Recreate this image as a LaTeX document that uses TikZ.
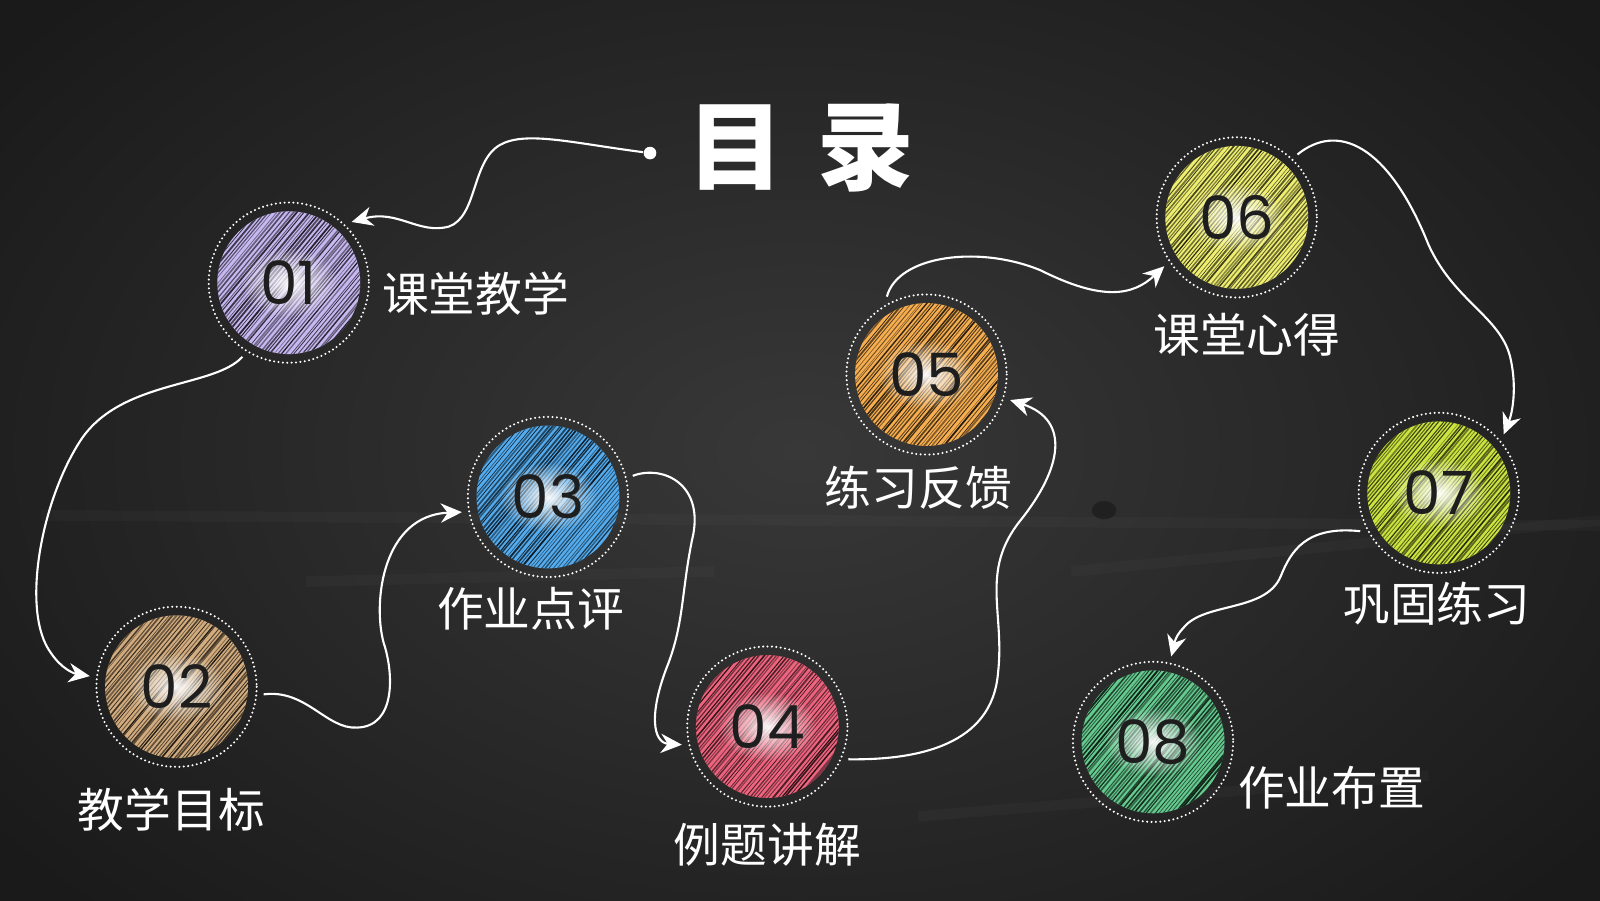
\documentclass[tikz,border=0pt]{standalone}
\usepackage{fontspec}
\newfontfamily\cjk{Noto Sans CJK SC}
\newfontfamily\numfont{Poppins}
\usetikzlibrary{arrows.meta,fadings}
\tikzfading[name=glowfade, inner color=transparent!0, outer color=transparent!100]
\definecolor{bgin}{RGB}{56,56,56}
\definecolor{bgout}{RGB}{26,26,26}
\definecolor{numdark}{RGB}{30,30,30}
\definecolor{cA}{RGB}{200,184,242}
\definecolor{cB}{RGB}{210,172,126}
\definecolor{cC}{RGB}{84,172,238}
\definecolor{cD}{RGB}{238,100,126}
\definecolor{cE}{RGB}{246,174,80}
\definecolor{cF}{RGB}{238,238,112}
\definecolor{cG}{RGB}{204,228,64}
\definecolor{cH}{RGB}{100,202,142}
\tikzset{
  conn/.style={draw=white, line width=0.6pt, -{Stealth[length=6pt,width=5.5pt]}},
  anchorcirc/.style={circle, inner sep=0pt, outer sep=0pt, minimum size=49.75pt},
  lab/.style={text=white, font=\cjk\fontsize{13.3pt}{14pt}\selectfont, inner sep=0pt},
  ttl/.style={text=white, font=\cjk\bfseries\fontsize{27.5pt}{28pt}\selectfont, inner sep=0pt},
  numst/.style={text=numdark, font=\numfont\fontsize{17pt}{18pt}\selectfont, inner sep=0pt},
  ring/.style={draw=white, line width=0.65pt, dash pattern=on 0pt off 1.25pt, line cap=round},
  dotst/.style={circle, fill=white, inner sep=0pt, minimum size=3.6pt}
}
\newcommand\mydisc[5]{%
  \fill[#4] (#2,#3) circle (70);
  \begin{scope}[shift={(#2,#3)}]
    \clip (0,0) circle (70);
    \foreach \k in {-24,...,24}{%
      \pgfmathsetmacro\o{\k*3.0+rnd*1.6}%
      \pgfmathsetmacro\lw{0.15+0.4*rnd}%
      \pgfmathsetmacro\op{0.4+0.45*rnd}%
      \draw[black, line width=\lw pt, opacity=\op] (\o*0.77-64, \o*0.64+77) -- ++(128,-154);
    }
    \fill[white, path fading=glowfade, opacity=0.95] (0,0) ellipse (48 and 34);
  \end{scope}
  \draw[ring] (#2,#3) circle (78.5);
  \node[anchorcirc] (#1) at (#2,#3) {};
  \node[numst] at (#2,#3) {#5};
}
\begin{document}
\begin{tikzpicture}[x=0.010204cm, y=-0.010204cm]
\pgfmathsetseed{7}
\useasboundingbox (0,0) rectangle (1568,882);
\shade[inner color=bgin, outer color=bgout] (-200,-200) rectangle (1768,1082);
% faint chalk smudges
\foreach \a/\b/\c/\d in {40/505/1568/515, 300/570/700/560, 1050/560/1568/510, 900/800/1400/760}{
  \draw[white, opacity=0.025, line width=3pt] (\a,\b) -- (\c,\d);
}
\fill[black, opacity=0.3] (1082,500) ellipse (12 and 9);

% title
\node[dotst] (dot) at (637,150) {};
\node[ttl] (t1) at (721,145) {目};
\node[ttl] (t2) at (848,145) {录};

% discs
\mydisc{c1}{283}{277}{cA}{01}
\mydisc{c2}{173}{673}{cB}{02}
\mydisc{c3}{537}{487}{cC}{03}
\mydisc{c4}{752}{712}{cD}{04}
\mydisc{c5}{908}{367}{cE}{05}
\mydisc{c6}{1212}{213}{cF}{06}
\mydisc{c7}{1410}{483}{cG}{07}
\mydisc{c8}{1130}{727}{cH}{08}

% labels
\node[lab] (l1) at (466,288) {课堂教学};
\node[lab] (l2) at (168,793) {教学目标};
\node[lab] (l3) at (520,597) {作业点评};
\node[lab] (l4) at (752,828) {例题讲解};
\node[lab] (l5) at (900,478) {练习反馈};
\node[lab] (l6) at (1222,328) {课堂心得};
\node[lab] (l7) at (1408,592) {巩固练习};
\node[lab] (l8) at (1305,772) {作业布置};

% connectors
\draw[conn] (dot) .. controls (560,140) and (515,128) .. (490,142)
  .. controls (462,158) and (468,212) .. (440,222)
  .. controls (410,230) and (390,205) .. (c1.44);
\draw[conn] (c1.238) .. controls (210,380) and (120,372) .. (80,430)
  .. controls (40,490) and (20,600) .. (50,640)
  .. controls (60,655) and (72,660) .. (c2.173);
\draw[conn] (c2.-5) .. controls (300,675) and (320,715) .. (350,713)
  .. controls (388,712) and (386,660) .. (376,630)
  .. controls (365,590) and (375,505) .. (c3.190);
\draw[conn] (c3.14) .. controls (650,455) and (692,475) .. (678,530)
  .. controls (668,580) and (670,610) .. (655,650)
  .. controls (635,700) and (640,728) .. (c4.192);
\draw[conn] (c4.-22) .. controls (900,745) and (972,730) .. (978,660)
  .. controls (985,600) and (960,560) .. (1000,510)
  .. controls (1040,460) and (1050,412) .. (c5.-17);
\draw[conn] (c5.117) .. controls (880,250) and (960,240) .. (1020,265)
  .. controls (1080,295) and (1110,290) .. (c6.214);
\draw[conn] (c6.46) .. controls (1310,120) and (1360,140) .. (1400,240)
  .. controls (1425,295) and (1470,310) .. (1480,350)
  .. controls (1487,380) and (1482,405) .. (c7.42);
\draw[conn] (c7.206) .. controls (1280,515) and (1265,540) .. (1255,565)
  .. controls (1240,600) and (1180,590) .. (1160,615)
  .. controls (1150,625) and (1150,635) .. (c8.78);
\end{tikzpicture}
\end{document}
